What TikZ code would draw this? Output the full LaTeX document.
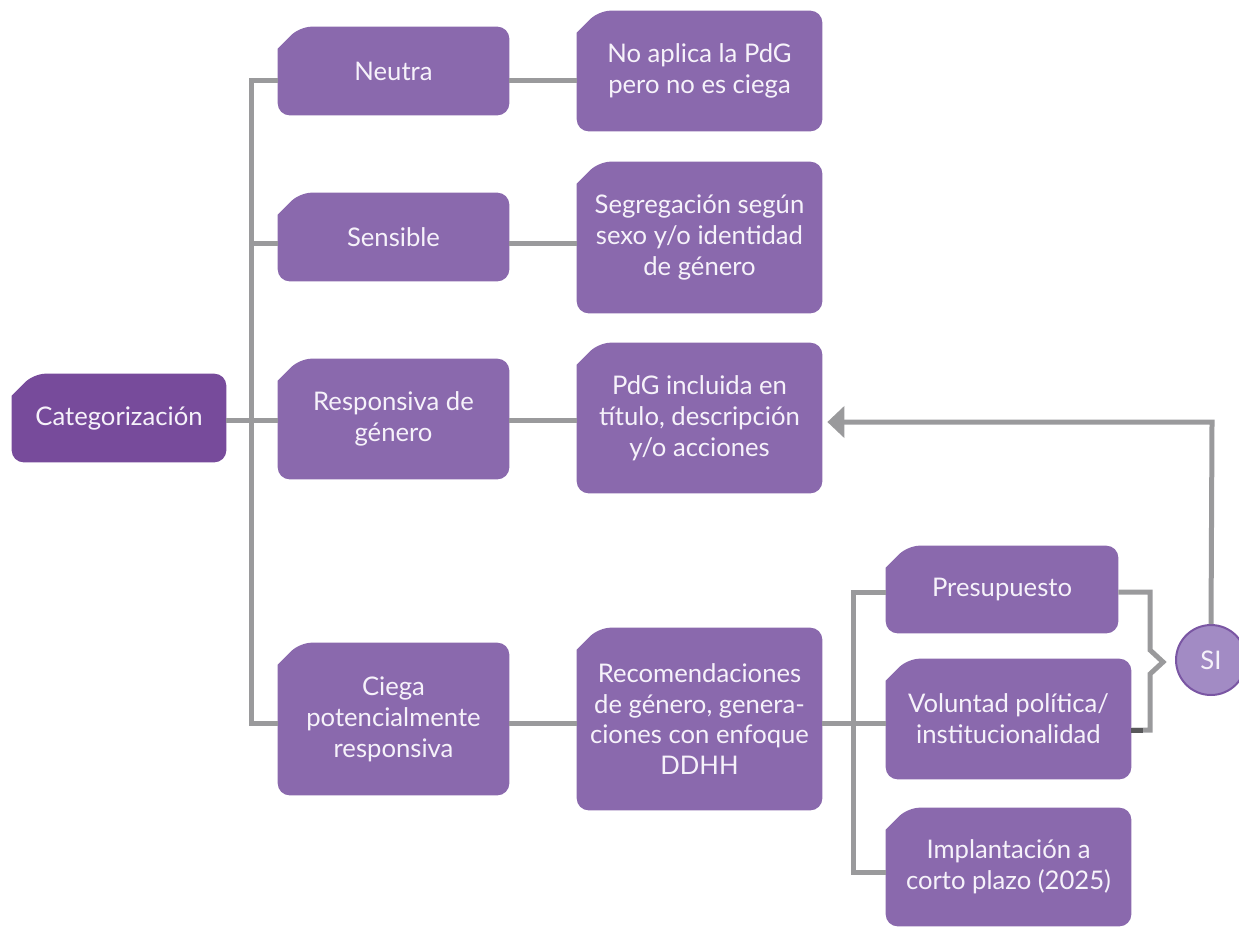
\documentclass[tikz,border=0pt]{standalone}
\usepackage{fontspec}
\setmainfont{Lato}
\usepackage{tikz}
\usetikzlibrary{arrows.meta}
\usetikzlibrary{backgrounds}

\definecolor{boxpurple}{HTML}{8A69AD}
\definecolor{catpurple}{HTML}{774B9B}
\definecolor{sifill}{HTML}{A28BC4}
\definecolor{siborder}{HTML}{7A56A3}
\definecolor{linegray}{HTML}{9A9A9C}
\definecolor{stubgray}{HTML}{58585A}
\definecolor{boxtext}{HTML}{F6F2FA}
\newcommand\boxfont{\fontsize{14.6}{17.6}\selectfont}

\begin{document}
\begin{tikzpicture}[x=0.02cm, y=-0.02cm,
    line/.style={draw=linegray, line width=0.1cm},
    box/.style={inner sep=0pt, align=center, text=boxtext, font=\boxfont}]
  \useasboundingbox (0,0) rectangle (1239,927);
  % root
  \node[box, minimum width=4.28cm, minimum height=1.76cm] (cat) at (119,418) {Categorización};
  % categories
  \node[box, minimum width=4.62cm, minimum height=1.76cm] (neu) at (393.5,71) {Neutra};
  \node[box, minimum width=4.62cm, minimum height=1.76cm] (sen) at (393.5,237) {Sensible};
  \node[box, minimum width=4.62cm, minimum height=2.4cm] (res) at (393.5,419) {Responsiva de\\género};
  \node[box, minimum width=4.62cm, minimum height=3.04cm] (cie) at (393.5,719) {Ciega\\potencialmente\\responsiva};
  % descriptions
  \node[box, minimum width=4.9cm, minimum height=2.4cm] (noa) at (699.5,71) {No aplica la PdG\\pero no es ciega};
  \node[box, minimum width=4.9cm, minimum height=3.02cm] (seg) at (699.5,237.5) {Segregación según\\sexo y/o identidad\\de género};
  \node[box, minimum width=4.9cm, minimum height=3.0cm] (pdg) at (699.5,418) {PdG incluida en\\título, descripción\\y/o acciones};
  \node[box, minimum width=4.9cm, minimum height=3.64cm] (rec) at (699.5,719) {Recomendaciones\\de género, genera-\\ciones con enfoque\\DDHH};
  % conditions
  \node[box, minimum width=4.64cm, minimum height=1.74cm] (pres) at (1002,589.5) {Presupuesto};
  \node[box, minimum width=4.9cm, minimum height=2.4cm] (vol) at (1008.5,719) {Voluntad política/\\institucionalidad};
  \node[box, minimum width=4.9cm, minimum height=2.36cm] (impl) at (1008.5,867) {Implantación a\\corto plazo (2025)};
  % SI
  \node[circle, fill=sifill, draw=siborder, line width=0.04cm, minimum size=1.4cm,
        inner sep=0pt, text=boxtext, font=\boxfont] (si) at (1211,660) {SI};

  % box shapes, cut corner top left
  \begin{scope}[on background layer]
    \foreach \n/\c in {cat/catpurple, neu/boxpurple, sen/boxpurple, res/boxpurple,
                       cie/boxpurple, noa/boxpurple, seg/boxpurple, pdg/boxpurple,
                       rec/boxpurple, pres/boxpurple, vol/boxpurple, impl/boxpurple}
      \fill[fill=\c] ([yshift=-0.44cm]\n.north west) [rounded corners=0.24cm]
        -- (\n.south west) -- (\n.south east) -- (\n.north east)
        -- ([xshift=0.44cm]\n.north west) [sharp corners] -- cycle;
  \end{scope}

  % trunk
  \coordinate (t1) at (251,80);
  \coordinate (t2) at (251,243);
  \coordinate (t3) at (251,420);
  \coordinate (t4) at (251,723);
  \draw[line] (t1 -| neu.west) -- (t1) -- (t4) -- (t4 -| cie.west);
  \draw[line] (t2) -- (t2 -| sen.west);
  \draw[line] (cat.east |- t3) -- (t3 -| res.west);
  % category to description
  \draw[line] (neu.east |- t1) -- (noa.west |- t1);
  \draw[line] (sen.east |- t2) -- (seg.west |- t2);
  \draw[line] (res.east |- t3) -- (pdg.west |- t3);
  \draw[line] (cie.east |- t4) -- (rec.west |- t4);
  % conditions
  \coordinate (b1) at (853,592);
  \coordinate (b2) at (853,872);
  \draw[line] (pres.west |- b1) -- (b1) -- (b2) -- (b2 -| impl.west);
  \draw[line] (rec.east |- t4) -- (vol.west |- t4);
  % bracket to SI
  \coordinate (k1) at (1150,592);
  \coordinate (k2) at (1150,730);
  \draw[line] (pres.east |- k1) -- (k1) -- ++(0,58) -- ++(13,12) -- ++(-13,12) -- (k2) -- (k2 -| vol.east);
  \draw[line, draw=stubgray] (vol.east |- k2) -- ++(12,0);
  % back to PdG
  \coordinate (fb) at (1212,422);
  \draw[line, -{Triangle[length=0.34cm,width=0.62cm]}, shorten >=0.1cm] (si.north) -- (fb) -- (fb -| pdg.east);
\end{tikzpicture}
\end{document}
